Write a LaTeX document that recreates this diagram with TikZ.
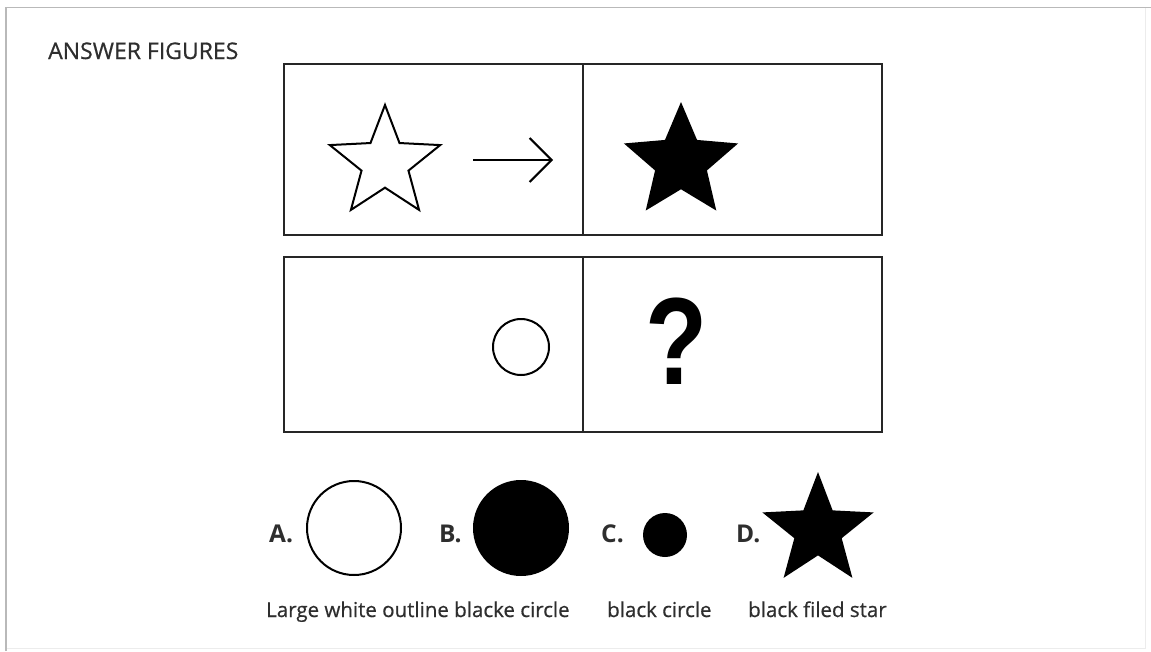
\documentclass[tikz,border=0pt]{standalone}
\usepackage{fontspec}
\setmainfont{Open Sans}
\newfontfamily\medfont[FakeBold=0.6]{Open Sans}
\newfontfamily\qfont{Liberation Sans}
\usetikzlibrary{shapes.geometric,arrows.meta}
\definecolor{txt}{HTML}{2E2E2E}
\tikzset{
  panel/.style={draw=black!85, line width=2.6pt},
  openstar/.style={star, star points=5, draw=black, line width=2pt, inner sep=0pt, fill=white},
  filledstar/.style={star, star points=5, fill=black, draw=none, inner sep=0pt},
  ring/.style={circle, draw=black, line width=2pt, inner sep=0pt},
  disc/.style={circle, fill=black, draw=none, inner sep=0pt},
  optlabel/.style={font=\fontsize{24.5}{27}\selectfont\bfseries, text=txt, anchor=base west, inner sep=0pt},
  caption/.style={font=\medfont\fontsize{20.5}{23}\selectfont, text=txt, anchor=base west, inner sep=0pt},
}
\begin{document}
\begin{tikzpicture}[x=1pt,y=-1pt]
\useasboundingbox (0,0) rectangle (1151,651);
\fill[white] (0,0) rectangle (1151,651);
% outer frame
\draw[gray!15, line width=1pt] (1145,8) -- (1145,648) -- (6,648);
\draw[gray!55, line width=1.5pt] (6,651) -- (6,7.5) -- (1151,7.5);
% title
\node[font=\medfont\fontsize{23}{26}\selectfont, text=txt, anchor=base west, inner sep=0pt] (title) at (48,59) {ANSWER FIGURES};
% panels
\draw[panel] (284,64) rectangle (882,235);
\draw[panel] (583,64) -- (583,235);
\draw[panel] (284,257) rectangle (882,432);
\draw[panel] (583,257) -- (583,432);
% top row
\node[openstar, star point ratio=2.35, minimum size=116pt] (s1) at (385,163) {};
\coordinate (arrS) at (473,160);
\coordinate (arrE) at (553,160);
\draw[line width=2pt, -{Straight Barb[length=22pt,width=44pt,line width=2pt]}] (arrS) -- (arrE);
\node[filledstar, star point ratio=2.2, minimum size=120pt] (s2) at (681,162) {};
% bottom row
\node[ring, minimum size=56pt] (c0) at (521,347) {};
\node[font=\qfont\bfseries\fontsize{124}{124}\selectfont, xscale=0.82, inner sep=0pt] (q) at (677,341) {?};
% options
\node[optlabel] (la) at (269,542) {A.};
\node[ring, minimum size=94pt] (ca) at (354,528) {};
\node[optlabel] (lb) at (439,542) {B.};
\node[disc, minimum size=96pt] (cb) at (521,528) {};
\node[optlabel] (lc) at (601,542) {C.};
\node[disc, minimum size=44pt] (cc) at (665,535) {};
\node[optlabel] (ld) at (736,542) {D.};
\node[filledstar, star point ratio=2.35, minimum size=117pt] (sd) at (818,530.5) {};
% captions
\node[caption] (ta) at (266,617) {Large white outline blacke circle};
\node[caption] (tc) at (607,617) {black circle};
\node[caption] (td) at (748,617) {black filed star};
\end{tikzpicture}
\end{document}
